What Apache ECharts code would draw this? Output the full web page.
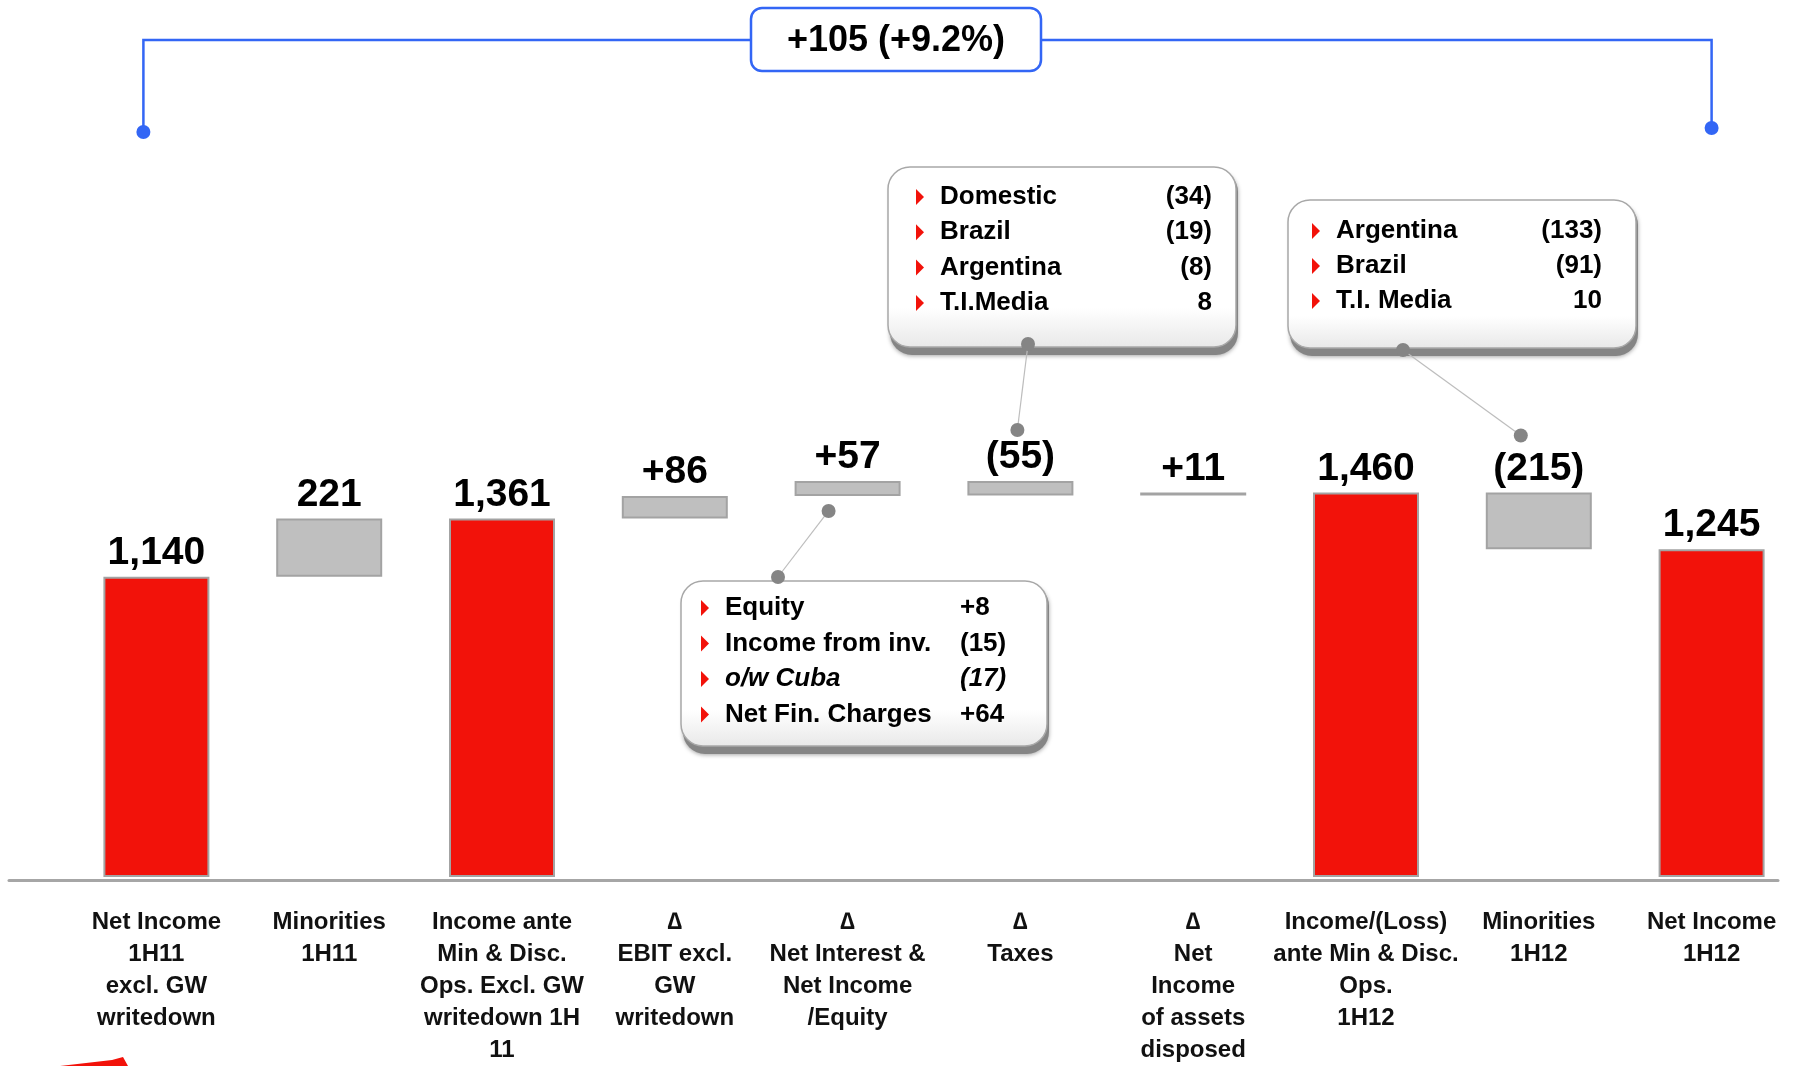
<!DOCTYPE html>
<html>
<head>
<meta charset="utf-8">
<script src="https://cdn.jsdelivr.net/npm/echarts@6/dist/echarts.min.js"></script>
<style>
  html, body { margin: 0; padding: 0; background: #ffffff; }
  #chart { width: 1798px; height: 1066px; }
</style>
</head>
<body>
<div id="chart"></div>
<script>
// Net income bridge 1H11 -> 1H12 (EUR m)
const categories = [
  'Net Income\n1H11\nexcl. GW\nwritedown',
  'Minorities\n1H11',
  'Income ante\nMin & Disc.\nOps. Excl. GW\nwritedown 1H\n11',
  '\u2206\nEBIT excl.\nGW\nwritedown',
  '\u2206\nNet Interest &\nNet Income\n/Equity',
  '\u2206\nTaxes',
  '\u2206\nNet\nIncome\nof assets\ndisposed',
  'Income/(Loss)\nante Min & Disc.\nOps.\n1H12',
  'Minorities\n1H12',
  'Net Income\n1H12'
];
const amounts = [1140, 221, 1361, 86, 57, -55, 11, 1460, -215, 1245];
const isTotal = [true, false, true, false, false, false, false, true, false, true];
const valueLabels = ['1,140', '221', '1,361', '+86', '+57', '(55)', '+11', '1,460', '(215)', '1,245'];

// Breakdown call-outs
const interestDetail = [['Equity', '+8'], ['Income from inv.', '(15)'], ['o/w Cuba', '(17)'], ['Net Fin. Charges', '+64']];
const taxDetail = [['Domestic', '(34)'], ['Brazil', '(19)'], ['Argentina', '(8)'], ['T.I.Media', '8']];
const minoritiesDetail = [['Argentina', '(133)'], ['Brazil', '(91)'], ['T.I. Media', '10']];

// Waterfall: invisible base + visible segment
let running = 0;
const baseValues = [];
const barValues = [];
amounts.forEach((v, i) => {
  if (isTotal[i]) { baseValues.push(0); barValues.push(v); running = v; }
  else if (v >= 0) { baseValues.push(running); barValues.push(v); running += v; }
  else { running += v; baseValues.push(running); barValues.push(-v); }
});

const FONT = '"Liberation Sans", Arial, sans-serif';
const BOX_FONT = '"Liberation Sans", Arial, sans-serif';
const RED = { color: '#F2120A', borderColor: '#A3A3A3', borderWidth: 2 };
const GREY = { color: '#BFBFBF', borderColor: '#A3A3A3', borderWidth: 2 };

const chart = echarts.init(document.getElementById('chart'), null, { renderer: 'canvas' });

chart.setOption({
  animation: false,
  backgroundColor: '#ffffff',
  grid: [
    { left: 70, right: 0, top: 403, bottom: 186 },
    { left: 9, right: 20, top: 403, bottom: 186 }
  ],
  xAxis: [
    {
      type: 'category', gridIndex: 0, data: categories,
      axisLine: { show: false }, axisTick: { show: false },
      axisLabel: {
        interval: 0, margin: 29, color: '#111111',
        fontFamily: FONT, fontWeight: 'bold', fontSize: 24, lineHeight: 32
      }
    },
    {
      type: 'value', gridIndex: 1, min: 0, max: 1,
      axisLine: { show: true, lineStyle: { color: '#A6A6A6', width: 3 } },
      axisTick: { show: false }, axisLabel: { show: false }, splitLine: { show: false }
    }
  ],
  yAxis: [
    { type: 'value', gridIndex: 0, min: 0, max: 1800, show: false, splitLine: { show: false } },
    { type: 'value', gridIndex: 1, min: 0, max: 1, show: false, splitLine: { show: false } }
  ],
  series: [
    {
      type: 'bar', stack: 'bridge', barWidth: 106, silent: true,
      itemStyle: { color: 'transparent' }, data: baseValues
    },
    {
      type: 'bar', stack: 'bridge', barWidth: 106,
      data: barValues.map((v, i) => ({ value: v, itemStyle: isTotal[i] ? RED : GREY })),
      label: {
        show: true, position: 'top', distance: 4,
        formatter: p => valueLabels[p.dataIndex],
        fontFamily: FONT, fontWeight: 'bold', fontSize: 39, color: '#000000'
      }
    }
  ]
});

// Pixel helpers
const px = i => chart.convertToPixel({ xAxisIndex: 0 }, i);
const py = v => chart.convertToPixel({ yAxisIndex: 0 }, v);
const barTop = i => py(baseValues[i] + barValues[i]);
const barBottom = i => py(baseValues[i]);

const graphics = [];

// Overall change bracket
const delta = amounts[amounts.length - 1] - amounts[0];
const pct = delta / amounts[0] * 100;
const headline = (delta >= 0 ? '+' : '') + delta + ' (' + (pct >= 0 ? '+' : '') + pct.toFixed(1) + '%)';
const BLUE = '#3366F5';
const xL = px(0) - 13, xR = px(amounts.length - 1);
graphics.push({
  type: 'polyline', z: 50,
  shape: { points: [[xL, 132], [xL, 40], [xR, 40], [xR, 128]] },
  style: { stroke: BLUE, lineWidth: 2.5, fill: null }
});
graphics.push({ type: 'circle', z: 51, shape: { cx: xL, cy: 132, r: 7 }, style: { fill: BLUE } });
graphics.push({ type: 'circle', z: 51, shape: { cx: xR, cy: 128, r: 7 }, style: { fill: BLUE } });
graphics.push({
  type: 'rect', z: 52,
  shape: { x: 751, y: 8, width: 290, height: 63, r: 11 },
  style: { fill: '#ffffff', stroke: BLUE, lineWidth: 2.5 }
});
graphics.push({
  type: 'text', z: 53,
  style: {
    text: headline, x: 896, y: 41, textAlign: 'center', textVerticalAlign: 'middle',
    font: 'bold 36px ' + FONT, fill: '#000000'
  }
});

// Call-out box with bullet rows
function callout(box, rows, textX, valueX, valueAlign, firstY, step, italicRow) {
  graphics.push({
    type: 'rect', z: 60,
    shape: { x: box.x + 2, y: box.y + 3, width: box.w, height: box.h + 1, r: 22 },
    style: { fill: '#858585', shadowBlur: 4, shadowColor: 'rgba(0,0,0,0.35)', shadowOffsetY: 1 }
  });
  graphics.push({
    type: 'rect', z: 61,
    shape: { x: box.x, y: box.y, width: box.w, height: box.h - 4, r: 22 },
    style: {
      fill: new echarts.graphic.LinearGradient(0, 0, 0, 1, [
        { offset: 0, color: '#ffffff' }, { offset: 0.78, color: '#ffffff' }, { offset: 1, color: '#e8e8e8' }
      ]),
      stroke: '#A8A8A8', lineWidth: 1.5
    }
  });
  rows.forEach((r, k) => {
    const y = firstY + k * step;
    const it = italicRow === k ? 'italic ' : '';
    graphics.push({
      type: 'polygon', z: 62,
      shape: { points: [[textX - 24, y - 8], [textX - 16, y], [textX - 24, y + 8]] },
      style: { fill: '#F2120A' }
    });
    graphics.push({
      type: 'text', z: 62,
      style: { text: r[0], x: textX, y: y, textVerticalAlign: 'middle', font: it + 'bold 26px ' + BOX_FONT, fill: '#000' }
    });
    graphics.push({
      type: 'text', z: 62,
      style: { text: r[1], x: valueX, y: y, textAlign: valueAlign, textVerticalAlign: 'middle', font: it + 'bold 26px ' + BOX_FONT, fill: '#000' }
    });
  });
}

function connector(a, b) {
  graphics.push({
    type: 'line', z: 63,
    shape: { x1: a[0], y1: a[1], x2: b[0], y2: b[1] },
    style: { stroke: '#BDBDBD', lineWidth: 1.2 }
  });
  [a, b].forEach(p => graphics.push({
    type: 'circle', z: 64, shape: { cx: p[0], cy: p[1], r: 7 }, style: { fill: '#858585' }
  }));
}

// Taxes breakdown
callout({ x: 888, y: 167, w: 348, h: 184 }, taxDetail, 940, 1212, 'right', 197, 35.3);
connector([1028, 344], [px(5) - 3, barTop(5) - 51]);

// Minorities 1H12 breakdown
callout({ x: 1288, y: 200, w: 348, h: 152 }, minoritiesDetail, 1336, 1602, 'right', 231, 35);
connector([1403, 350], [px(8) - 18, barTop(8) - 57]);

// Net interest / equity breakdown
callout({ x: 681, y: 581, w: 366, h: 169 }, interestDetail, 725, 960, 'left', 608, 35.5, 2);
connector([778, 577], [px(4) - 19, barBottom(4) + 15]);

// Corner logo mark
graphics.push({
  type: 'polygon', z: 40,
  shape: { points: [[60, 1066], [112, 1060], [123, 1057], [128, 1066]] },
  style: { fill: '#F2120A' }
});

chart.setOption({ graphic: graphics });
</script>
</body>
</html>
